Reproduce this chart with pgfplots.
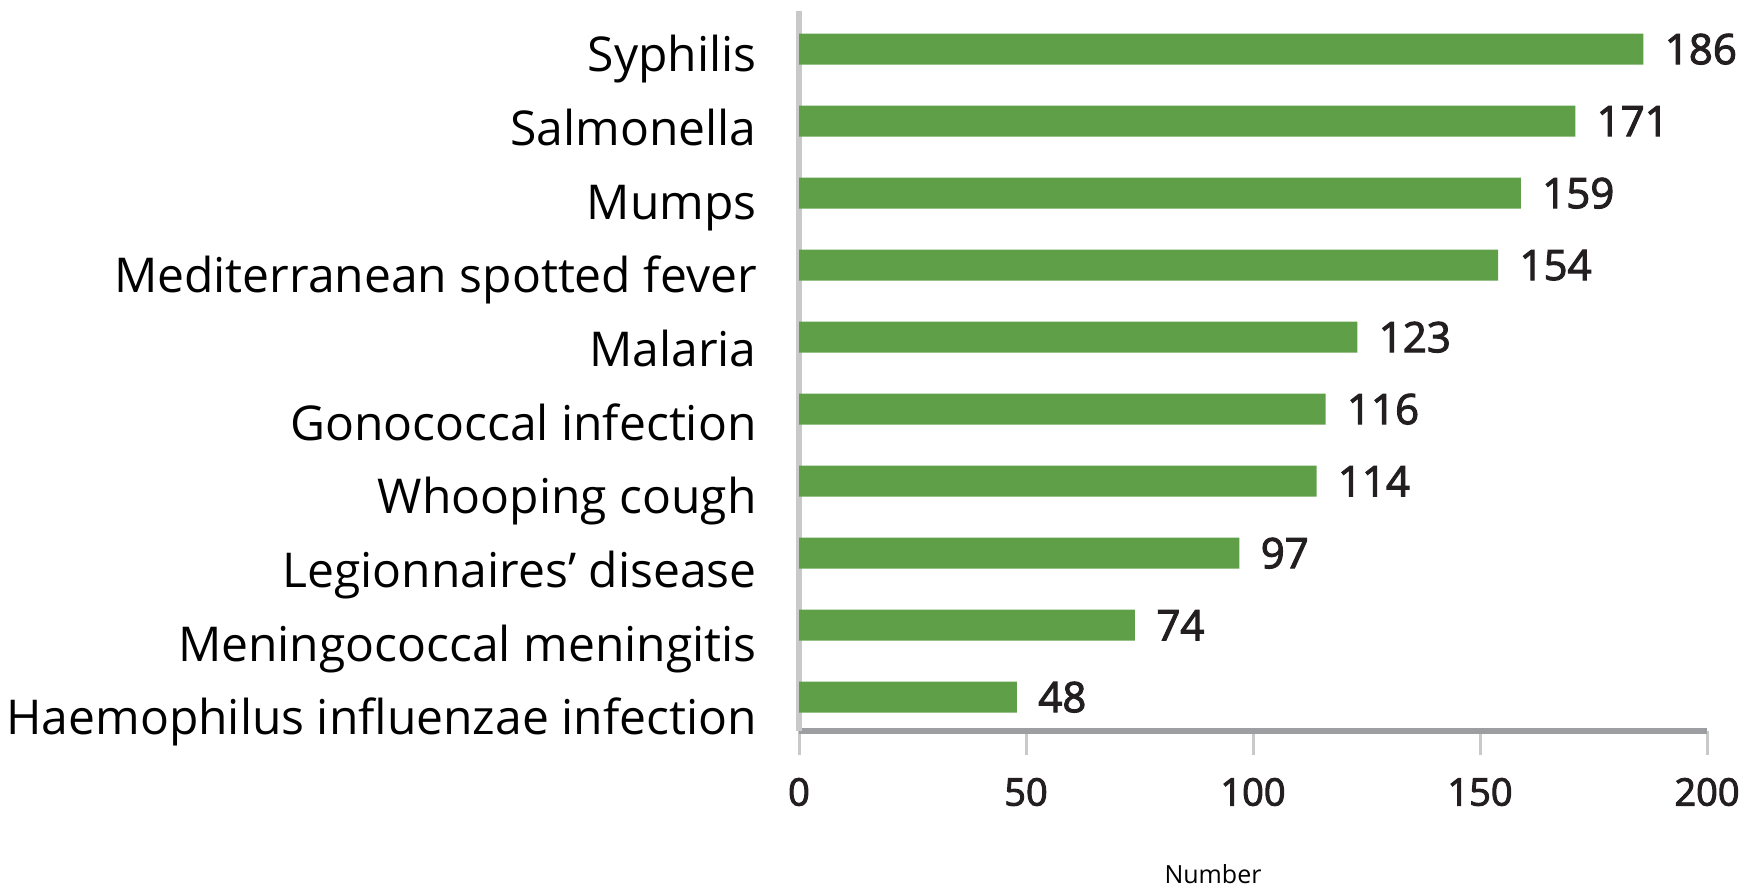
\documentclass[border=0pt]{standalone}
\usepackage{fontspec}
\setmainfont{Open Sans}
\newfontfamily\semib[FakeBold=2.5]{Open Sans}
\usepackage{pgfplots}
\pgfplotsset{compat=1.18}

\definecolor{bargreen}{RGB}{94,159,72}
\definecolor{lightaxis}{RGB}{200,201,203}
\definecolor{darkaxis}{RGB}{157,158,162}
\definecolor{numtext}{RGB}{35,31,32}

\begin{document}
\begin{tikzpicture}
\useasboundingbox (0,0) rectangle (872.5bp,443bp);
\begin{axis}[
    at={(399.5bp,77.5bp)}, anchor=south west,
    scale only axis,
    width=454bp, height=360bp,
    xbar, bar width=15.5bp,
    xmin=0, xmax=200,
    ymin=-0.47, ymax=9.53,
    axis x line*=bottom, axis y line*=left,
    x axis line style={-, draw=darkaxis, line width=2.5bp},
    y axis line style={-, draw=lightaxis, line width=3bp},
    xtick={0,50,100,150,200},
    % category names sit a little lower than their bars, more so further down
    ytick={-0.285,0.739,1.762,2.786,3.809,4.833,5.857,6.880,7.904,8.927},
    yticklabels={
        Haemophilus influenzae infection,
        Meningococcal meningitis,
        Legionnaires’ disease,
        Whooping cough,
        Gonococcal infection,
        Malaria,
        Mediterranean spotted fever,
        Mumps,
        Salmonella,
        Syphilis
    },
    tick align=outside,
    major tick length=12bp,
    xtick style={draw=lightaxis, line width=1.5bp},
    ytick style={draw=none},
    /pgf/number format/assume math mode=true,
    xticklabel style={anchor=center, yshift=-18.5bp, inner sep=0pt,
        font=\semib\fontsize{19bp}{22bp}\selectfont, text=numtext},
    yticklabel style={anchor=base east, inner sep=0pt, xshift=-9bp, yshift=-8.6bp,
        font=\fontsize{24bp}{28bp}\selectfont, text=black},
    xlabel={Number},
    xlabel style={at={(axis description cs:0.456,0)}, anchor=center, yshift=-71.5bp,
        font=\fontsize{12.5bp}{15bp}\selectfont, inner sep=0pt},
    nodes near coords,
    nodes near coords style={anchor=west, xshift=10.5bp, inner sep=0pt,
        font=\semib\fontsize{21bp}{24bp}\selectfont, text=numtext},
    clip=false,
]
\addplot[fill=bargreen, draw=none] coordinates {
    (48,0)
    (74,1)
    (97,2)
    (114,3)
    (116,4)
    (123,5)
    (154,6)
    (159,7)
    (171,8)
    (186,9)
};
\end{axis}
\end{tikzpicture}
\end{document}
